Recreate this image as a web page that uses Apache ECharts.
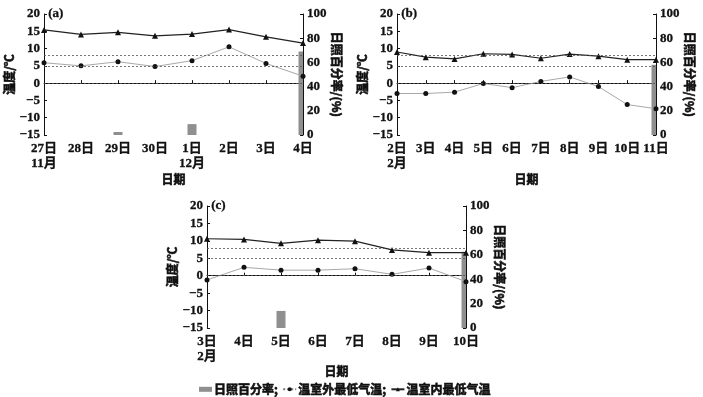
<!DOCTYPE html>
<html>
<head>
<meta charset="utf-8">
<script src="https://cdn.jsdelivr.net/npm/echarts@6/dist/echarts.min.js"></script>
<style>html,body{margin:0;padding:0;background:#fff;}#c{width:703px;height:397px;}</style>
</head>
<body>
<div id="c"></div>
<script>
const daysA = ['27日\n11月','28日','29日','30日','1日\n12月','2日','3日','4日'];
const indoorA = [15.4,14.1,14.7,13.7,14.2,15.5,13.4,11.6];
const outdoorA = [5.9,5.0,6.2,4.8,6.5,10.5,5.7,2.0];
const sunA = [0,0,2.5,0,9,0,0,69];

const daysB = ['2日\n2月','3日','4日','5日','6日','7日','8日','9日','10日','11日'];
const indoorB = [9.0,7.5,7.0,8.5,8.3,7.2,8.4,7.8,6.8,6.8];
const outdoorB = [-3.0,-3.0,-2.6,-0.1,-1.3,0.5,1.8,-1.0,-6.2,-7.4];
const sunB = [0,0,0,0,0,0,0,0,0,58];

const daysC = ['3日\n2月','4日','5日','6日','7日','8日','9日','10日'];
const indoorC = [10.6,10.4,9.3,10.2,9.9,7.4,6.6,6.6];
const outdoorC = [-1.2,2.4,1.6,1.6,2.0,0.4,2.2,-1.7];
const sunC = [0,0,14,0,0,0,0,62.5];

const refLines = [8,5,0];
const panelLabels = ['(a)','(b)','(c)'];
const NAME_SUN = '日照百分率;';
const NAME_OUT = '温室外最低气温;';
const NAME_IN = '温室内最低气温';

const FONT = '"Liberation Serif","Noto Sans CJK SC",serif';
const CJK = '"Noto Sans CJK SC","Liberation Serif",sans-serif';
const txt = {color:'#111', fontFamily: FONT, fontWeight:'bold', fontSize:13, textBorderColor:'#111', textBorderWidth:0.3};
const cjkTxt = {color:'#111', fontFamily:CJK, fontWeight:'bold', fontSize:12, textBorderColor:'#111', textBorderWidth:0.6};

const grids = [
  {left:44, top:14, width:259, height:121},
  {left:397, top:14, width:259, height:121},
  {left:207, top:206, width:259, height:122}
];
const xNameGaps = [38, 38, 36];
const panels = [
  {days:daysA, indoor:indoorA, outdoor:outdoorA, sun:sunA},
  {days:daysB, indoor:indoorB, outdoor:outdoorB, sun:sunB},
  {days:daysC, indoor:indoorC, outdoor:outdoorC, sun:sunC}
];

function renderBar(params, api) {
  const x = api.value(0), y = api.value(1);
  if (!y) return null;
  const top = api.coord([x, y]);
  const base = api.coord([x, 0]);
  const w = 9;
  const cs = params.coordSys;
  const rect = echarts.graphic.clipRectByRect(
    {x: top[0] - w / 2, y: top[1], width: w, height: base[1] - top[1]},
    {x: cs.x, y: cs.y, width: cs.width, height: cs.height}
  );
  return rect ? {type:'rect', shape:rect, style:{fill:'#8f8f8f'}} : null;
}

const xAxis = [], yAxis = [], series = [], graphic = [];
panels.forEach((p, i) => {
  xAxis.push({
    type:'category', gridIndex:i, data:p.days, boundaryGap:false,
    name:'日期', nameLocation:'middle', nameGap:xNameGaps[i],
    nameTextStyle:cjkTxt,
    axisLine:{lineStyle:{color:'#111', width:1}},
    axisTick:{show:true, inside:true, length:3, lineStyle:{color:'#111'}},
    axisLabel:Object.assign({margin:6, interval:0, lineHeight:15}, txt),
    splitLine:{show:false}
  });
  yAxis.push({
    type:'value', gridIndex:i, min:-15, max:20, interval:5, position:'left',
    name:'温度/℃', nameLocation:'middle', nameGap:24, nameRotate:90,
    nameTextStyle:cjkTxt,
    axisLine:{show:true, lineStyle:{color:'#111', width:1}},
    axisTick:{show:true, inside:true, length:3, lineStyle:{color:'#111'}},
    axisLabel:Object.assign({margin:4, formatter:v => String(v).replace('-', '\u2212')}, txt),
    splitLine:{show:false}
  });
  yAxis.push({
    type:'value', gridIndex:i, min:0, max:100, interval:20, position:'right',
    name:'日照百分率/(%)', nameLocation:'middle', nameGap:28, nameRotate:-90,
    nameTextStyle:cjkTxt,
    axisLine:{show:true, lineStyle:{color:'#111', width:1}},
    axisTick:{show:true, inside:true, length:3, lineStyle:{color:'#111'}},
    axisLabel:Object.assign({margin:4}, txt),
    splitLine:{show:false}
  });
  series.push({
    name:NAME_SUN, type:'custom', xAxisIndex:i, yAxisIndex:2*i+1,
    data:p.sun.map((v, j) => [j, v]), renderItem:renderBar,
    itemStyle:{color:'#8f8f8f'}, z:1, silent:true,
    encode:{x:0, y:1}
  });
  series.push({
    name:NAME_OUT, type:'line', xAxisIndex:i, yAxisIndex:2*i, data:p.outdoor,
    symbol:'circle', symbolSize:5, showAllSymbol:true,
    lineStyle:{color:'#a8a8a8', width:1}, itemStyle:{color:'#111'}, z:3
  });
  series.push({
    name:NAME_IN, type:'line', xAxisIndex:i, yAxisIndex:2*i, data:p.indoor,
    symbol:'triangle', symbolSize:6, showAllSymbol:true,
    lineStyle:{color:'#222', width:1.2}, itemStyle:{color:'#111'}, z:4,
    markLine:{
      silent:true, symbol:'none', label:{show:false},
      lineStyle:{color:'#555', type:[2,2], width:0.8},
      data: refLines.map(v => ({yAxis:v}))
    }
  });
  graphic.push({
    type:'text', left:grids[i].left + 4, top:grids[i].top - 7,
    style:{text:panelLabels[i], fill:'#111', font:'bold 13px "Liberation Serif"', stroke:'#111', lineWidth:0.3}
  });
});

const chart = echarts.init(document.getElementById('c'), null, {renderer:'canvas'});
chart.setOption({
  animation:false,
  backgroundColor:'#fff',
  grid:grids,
  xAxis, yAxis, series, graphic,
  legend:{
    left:194, top:378, itemGap:4, itemWidth:13, itemHeight:5,
    textStyle:Object.assign({}, cjkTxt, {padding:[0,0,0,-3]}),
    data:[
      {name:NAME_SUN, icon:'rect'},
      {name:NAME_OUT, lineStyle:{type:'dotted', color:'#777'}},
      {name:NAME_IN}
    ]
  }
});
</script>
</body>
</html>
